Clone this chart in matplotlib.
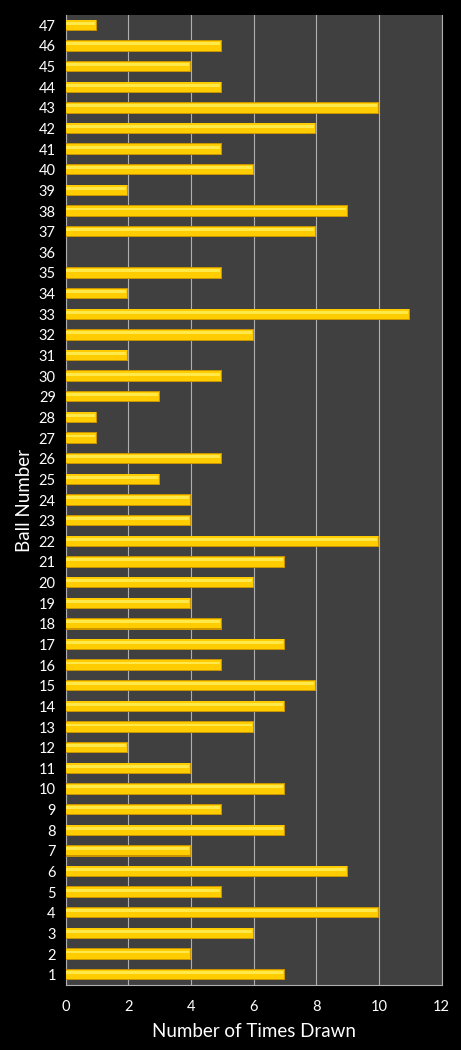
import numpy as np
import matplotlib
matplotlib.use('Agg')
import matplotlib.pyplot as plt

plt.rcParams['font.family'] = ['Lato', 'DejaVu Sans']

balls = list(range(1, 48))
times_drawn = [7, 4, 6, 10, 5, 9, 4, 7, 5, 7,
               4, 2, 6, 7, 8, 5, 7, 5, 4, 6,
               7, 10, 4, 4, 3, 5, 1, 1, 3, 5,
               2, 6, 11, 2, 5, 0, 8, 9, 2, 6,
               5, 8, 10, 5, 4, 5, 1]

fig = plt.figure(figsize=(4.61, 10.5), dpi=100, facecolor='black')
ax = fig.add_axes([65.5/461, 1-985/1050, 376/461, 970/1050])
ax.set_facecolor('#404040')

y = np.arange(len(balls))
# bevelled look: dark edge, main yellow, light highlight
ax.barh(y, times_drawn, height=0.55, color='#C89400', zorder=3)
ax.barh(y + 0.01, [max(v - 0.03, 0) for v in times_drawn], height=0.47,
        color='#FFCC00', zorder=4)
ax.barh(y + 0.1, [max(v - 0.06, 0) for v in times_drawn], height=0.14,
        color='#FFE84A', zorder=5)

ax.set_xlim(0, 12)
ax.set_ylim(-0.5, len(balls) - 0.5)
ax.set_xticks(range(0, 13, 2))
ax.set_yticks(y)
ax.set_yticklabels([str(b) for b in balls])
ax.grid(axis='x', color='#B0B0B0', linewidth=0.8, zorder=1)
ax.spines['top'].set_visible(False)
for s in ['bottom', 'right', 'left']:
    ax.spines[s].set_color('#B0B0B0')
ax.tick_params(colors='white', labelsize=10.5, length=0, pad=7)
ax.tick_params(axis='x', pad=11)

ax.set_xlabel('Number of Times Drawn', color='white', fontsize=13.5, labelpad=6)
ax.set_ylabel('Ball Number', color='white', fontsize=13.5, labelpad=4)

fig.savefig('out.png', dpi=100, facecolor='black')
